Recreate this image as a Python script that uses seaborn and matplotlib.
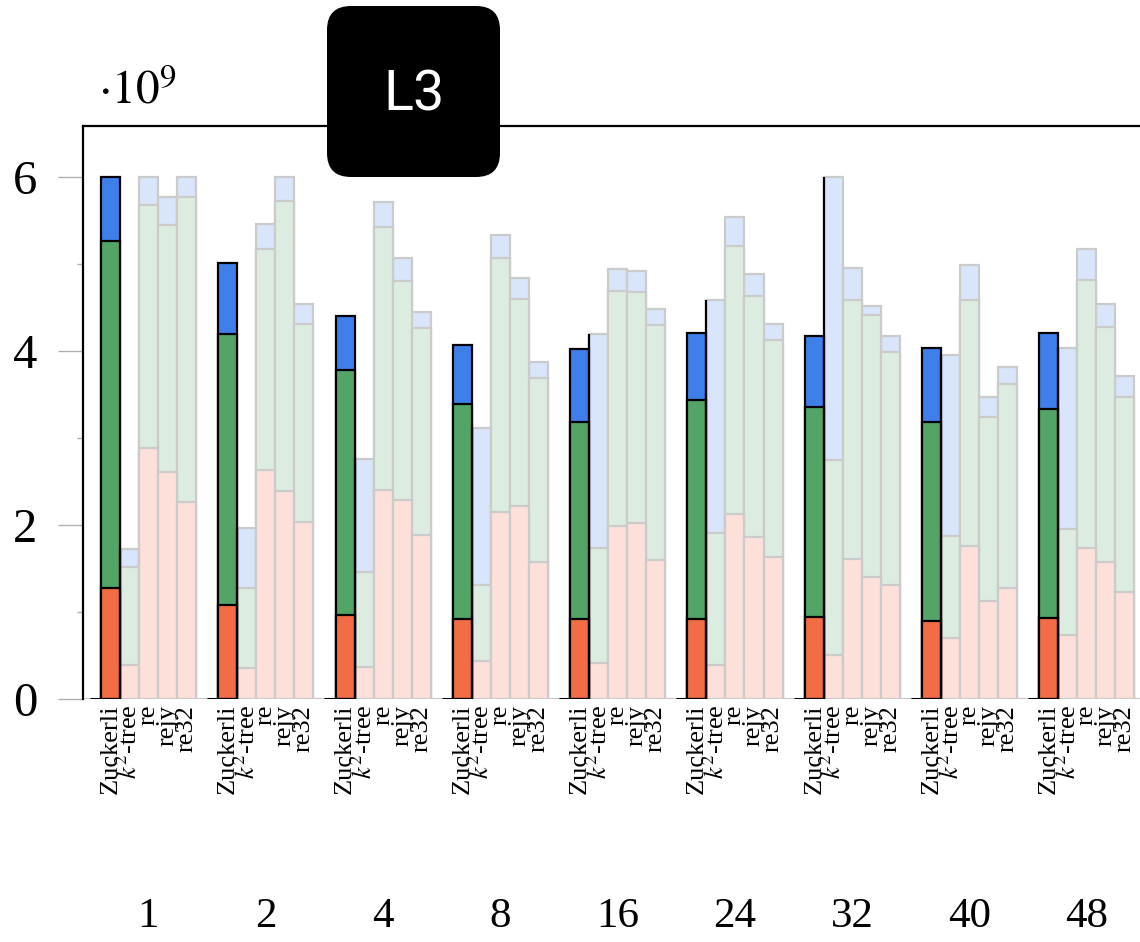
import matplotlib
matplotlib.use("Agg")
import matplotlib.pyplot as plt
from matplotlib.patches import FancyBboxPatch
import pandas as pd
import seaborn as sns

# Thread counts (groups) and compressors (bars within a group)
threads = ["1", "2", "4", "8", "16", "24", "32", "40", "48"]
methods = ["Zuckerli", "$k^2$-tree", "re", "rejy", "re32"]

# Stacked segments in units of 1e9, one row per compressor, one column per thread count
seg_bottom = [
    [1.28, 1.08, 0.97, 0.92, 0.92, 0.92, 0.94, 0.90, 0.93],
    [0.39, 0.36, 0.37, 0.44, 0.41, 0.39, 0.51, 0.70, 0.74],
    [2.88, 2.63, 2.40, 2.15, 1.99, 2.13, 1.61, 1.76, 1.74],
    [2.61, 2.39, 2.29, 2.22, 2.02, 1.86, 1.40, 1.13, 1.58],
    [2.27, 2.04, 1.89, 1.57, 1.60, 1.63, 1.31, 1.28, 1.23],
]
seg_middle = [
    [3.98, 3.12, 2.81, 2.47, 2.26, 2.52, 2.42, 2.28, 2.40],
    [1.13, 0.92, 1.09, 0.87, 1.32, 1.52, 2.24, 1.17, 1.21],
    [2.80, 2.54, 3.03, 2.92, 2.70, 3.08, 2.98, 2.83, 3.08],
    [2.84, 3.33, 2.51, 2.38, 2.66, 2.77, 3.01, 2.11, 2.69],
    [3.50, 2.27, 2.37, 2.12, 2.70, 2.50, 2.68, 2.34, 2.24],
]
seg_top = [
    [0.74, 0.81, 0.62, 0.68, 0.84, 0.77, 0.81, 0.85, 0.88],
    [0.20, 0.69, 1.30, 1.80, 2.46, 2.68, 3.25, 2.08, 2.08],
    [0.32, 0.29, 0.28, 0.26, 0.25, 0.33, 0.36, 0.40, 0.35],
    [0.32, 0.28, 0.27, 0.24, 0.24, 0.26, 0.11, 0.23, 0.27],
    [0.23, 0.23, 0.19, 0.18, 0.18, 0.18, 0.18, 0.20, 0.24],
]

# Colours: the highlighted compressor is saturated, the others are faded
strong = {"bottom": "#f26c45", "middle": "#52a467", "top": "#3f7fea"}
faded = {"bottom": "#fde0d9", "middle": "#dcece0", "top": "#d8e5fa"}
FADED_EDGE = "#cbcbcb"

rows = []
for m, method in enumerate(methods):
    for g, t in enumerate(threads):
        b = seg_bottom[m][g]
        mid = b + seg_middle[m][g]
        top = mid + seg_top[m][g]
        rows.append({"threads": t, "method": method,
                     "bottom": b, "middle": mid, "top": top})
df = pd.DataFrame(rows)

sns.set_theme(style="white")
plt.rcParams["font.family"] = ["Liberation Serif", "DejaVu Serif"]
plt.rcParams["mathtext.fontset"] = "stix"

W, H = 1140, 942
fig = plt.figure(figsize=(W / 100, H / 100), dpi=100)
ax = fig.add_axes([83 / W, 1 - 699 / H, (1160 - 83) / W, (699 - 126) / H])

WIDTH = 0.81
bar_w = WIDTH / len(methods)

# Draw cumulative heights, tallest first, so each lower segment sits on top
for level, layer in enumerate(["top", "middle", "bottom"]):
    pal = {m: (strong[layer] if i == 0 else faded[layer]) for i, m in enumerate(methods)}
    sns.barplot(data=df, x="threads", y=layer, hue="method", order=threads,
                hue_order=methods, palette=pal, saturation=1, width=WIDTH,
                errorbar=None, legend=False, edgecolor=FADED_EDGE,
                linewidth=1.6, ax=ax)
    for i, cont in enumerate(ax.containers[-len(methods):]):
        for p in cont.patches:
            if i == 0:
                p.set_edgecolor("black")
                p.set_linewidth(1.6)
                p.set_zorder(5 + level)
            else:
                p.set_zorder(2 + level)

# Baseline and the dark outline next to the highlighted bars
n = len(threads)
ax.axhline(0, color="#c8c8c8", lw=1.5, zorder=1.5)
for g in range(n):
    z_right = g - WIDTH / 2 + bar_w
    ax.hlines(0, g - 0.5, z_right, color="black", lw=2.2, zorder=9)
    k2_total = seg_bottom[1][g] + seg_middle[1][g] + seg_top[1][g]
    ax.vlines(z_right, 0, k2_total, color="black", lw=1.6, zorder=8)

ax.set_xlim(-0.558, 8.623)
ax.set_ylim(0, 6.586)

# Spines
for side in ["bottom", "right"]:
    ax.spines[side].set_visible(False)
for side in ["left", "top"]:
    ax.spines[side].set_color("black")
    ax.spines[side].set_linewidth(1.6)

# Y axis ticks
ax.set_yticks([0, 2, 4, 6])
ax.set_yticklabels(["0", "2", "4", "6"])
ax.set_yticks([1, 3, 5], minor=True)
ax.tick_params(axis="y", which="major", left=True, length=18, width=1.0,
               color="#b0b0b0", pad=15, labelsize=35, labelcolor="black")
ax.tick_params(axis="y", which="minor", left=True, length=4, width=1.0,
               color="#b0b0b0")

# Group labels below the compressor names
ax.set_xticks(range(n))
ax.set_xticklabels(threads)
ax.tick_params(axis="x", length=0, pad=143, labelsize=31, labelcolor="black")
ax.set_xlabel("")
ax.set_ylabel("")

# Compressor names under each bar
xform = ax.get_xaxis_transform()
for g in range(n):
    for i, method in enumerate(methods):
        x = g - WIDTH / 2 + bar_w * (i + 0.5)
        ax.text(x, -0.01, method, rotation=90, ha="center", va="top",
                fontsize=19, transform=xform, color="black")

# Scale factor of the y axis
fig.text(98 / W, 1 - 104 / H, r"$\cdot10^{9}$", fontsize=34,
         ha="left", va="baseline", color="black")

# Level badge
badge = FancyBboxPatch((3.27, (H - 177) / 100), 1.73, 1.71,
                       boxstyle="round,pad=0,rounding_size=0.24",
                       transform=fig.dpi_scale_trans, facecolor="black",
                       edgecolor="none", zorder=10)
fig.add_artist(badge)
fig.text(414 / W, 1 - 95 / H, "L3", color="white", fontsize=40,
         family="Roboto", ha="center", va="center", zorder=11)

fig.savefig("out.png", dpi=100)
